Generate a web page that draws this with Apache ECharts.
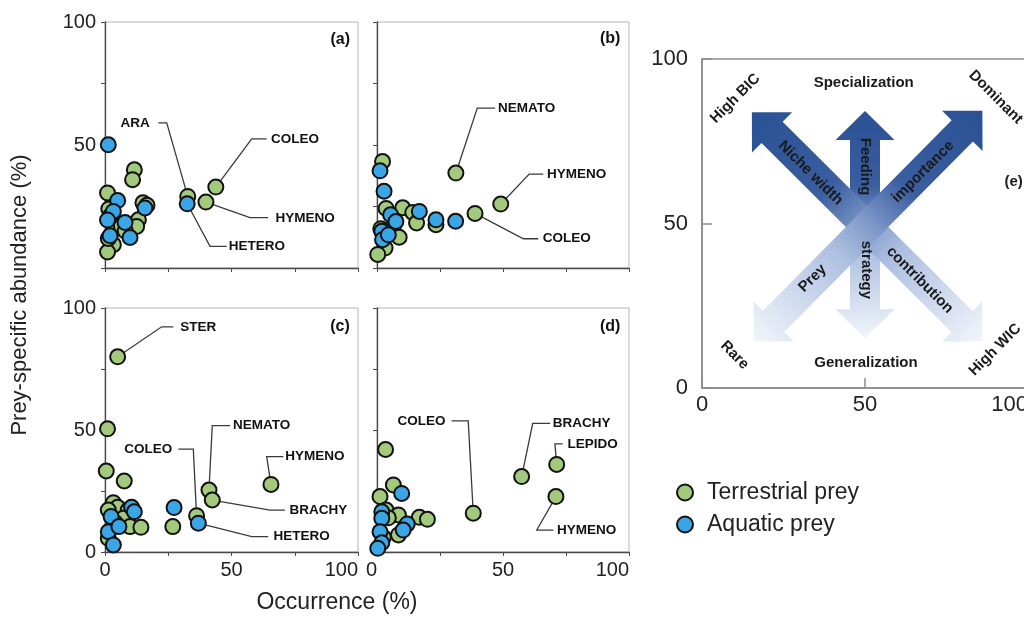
<!DOCTYPE html>
<html><head><meta charset="utf-8">
<script src="https://cdn.jsdelivr.net/npm/echarts@6/dist/echarts.min.js"></script>
<style>html,body{margin:0;padding:0;background:#fff}#c{width:1024px;height:626px}</style>
</head><body><div id="c"></div>
<script>
const FONT = '"Liberation Sans", Arial, Helvetica, sans-serif';
const GREEN = '#A2C97C', BLUE = '#3BA6E6';

// ---------- data: [occurrence %, prey-specific abundance %] ----------
const terrestrialA = [[1,30.5],[11.6,39.9],[10.9,35.9],[1.5,24],[2,21],[15,26.5],[16.6,25.5],[13.2,19.6],[12.5,16.9],[4.5,16],[6.5,17],[8,15],[3.3,9.5],[1,6.5],[1.3,12],[32.7,29.1],[39.9,26.8],[43.8,32.9]];
const aquaticA = [[1.3,50.1],[5,27.4],[3.3,23],[1,19.5],[7.9,18.5],[2,13.1],[9.9,12.4],[15.8,24.4],[32.5,26.1]];

const terrestrialB = [[2.2,43.3],[31.3,38.6],[49.1,26],[38.9,22.2],[3.6,24.2],[10.2,24.5],[14.2,22.6],[15.7,18.3],[23.4,17.6],[6.5,16.9],[8.8,12.5],[3.2,8.1],[0.3,5.5],[1.5,16]];
const aquaticB = [[1.2,39.5],[2.8,31.2],[5.4,21.6],[7.5,18.9],[16.8,23],[23.4,19.6],[31.2,19],[1.9,14.9],[2.2,11.5],[4.5,13.5]];

const terrestrialC = [[5,80],[1,50.5],[0.5,33.2],[7.6,29.1],[41.1,25.4],[42.4,21.3],[65.6,27.7],[36.2,14.9],[26.8,10.4],[3.3,20.2],[5,18.3],[1.3,17.2],[9.2,17.2],[7.2,13.8],[9.9,10.4],[14.2,10.1],[1.3,5.6],[4,12]];
const aquaticC = [[36.9,11.8],[27.3,18.2],[10.5,18.3],[11.6,16.5],[2.4,14.5],[1.3,8.3],[5.5,10.4],[3.3,2.9]];

const terrestrialD = [[3.4,42],[57.4,30.9],[71.3,35.9],[71,22.7],[38.2,15.9],[6.5,27.5],[1.2,22.7],[3.6,17.2],[8.5,15.2],[16.8,14.2],[20,13.4],[8.5,7],[2.5,6],[4.5,14]];
const aquaticD = [[9.8,24],[1.9,16.5],[1.9,13.8],[12,11.5],[10.4,9],[1.2,8.3],[1.9,3.8],[0.3,1.5]];

const seriesNames = ['Terrestrial prey', 'Aquatic prey'];
const panelTags = ['(a)', '(b)', '(c)', '(d)', '(e)'];
const axisTicks = [0, 50, 100];

// ---------- annotations (text anchors and leader lines, in data units) ----------
const labelsA = [
  {name:'ARA', at:[11.9,59], leader:[[21.1,59],[24.4,59],[32.7,29.1]]},
  {name:'COLEO', at:[75.1,52.5], leader:[[63.9,52.5],[58,52.5],[43.8,32.9]]},
  {name:'HYMENO', at:[79.1,20.3], leader:[[64.5,20.5],[57.3,20.5],[39.9,26.8]]},
  {name:'HETERO', at:[60,8.8], leader:[[48.1,8.8],[41.5,8.8],[32.5,26.1]]},
  {name:panelTags[0], at:[93,93], tag:true}
];
const labelsB = [
  {name:'NEMATO', at:[59.4,65], leader:[[46.8,65],[39.8,65],[31.3,38.6]]},
  {name:'HYMENO', at:[79.2,38.2], leader:[[66,38.2],[60.4,38.2],[49.1,26]]},
  {name:'COLEO', at:[75.3,11.9], leader:[[64,11.9],[58.1,11.9],[38.9,22.2]]},
  {name:panelTags[1], at:[92.5,93.4], tag:true}
];
const labelsC = [
  {name:'STER', at:[36.9,92.3], leader:[[27,92.3],[22.4,92.3],[5,80]]},
  {name:'NEMATO', at:[61.9,51.8], leader:[[49.4,51.8],[42.4,51.8],[41.1,25.4]]},
  {name:'HYMENO', at:[83,39.1], leader:[[70.5,39.1],[63.9,39.1],[65.6,27.7]]},
  {name:'COLEO', at:[17.1,42.2], leader:[[29,42.2],[34.9,42.2],[36.2,14.9]]},
  {name:'BRACHY', at:[84.3,17.2], leader:[[71.1,17.2],[65.2,17.2],[42.4,21.3]]},
  {name:'HETERO', at:[77.7,6.3], leader:[[64.5,6.3],[58,6.3],[36.9,11.8]]},
  {name:panelTags[2], at:[92.9,92.3], tag:true}
];
const labelsD = [
  {name:'COLEO', at:[17.7,53.7], leader:[[29.6,53.7],[36.2,53.7],[38.2,15.9]]},
  {name:'BRACHY', at:[81.2,52.7], leader:[[68.7,52.7],[61.8,52.7],[57.4,30.9]]},
  {name:'LEPIDO', at:[85.6,44.3], leader:[[73.7,44.3],[70.6,44.3],[71.3,35.9]]},
  {name:'HYMENO', at:[83.2,9], leader:[[70,9],[63.4,9],[71,22.7]]},
  {name:panelTags[3], at:[92.5,92.3], tag:true}
];

// ---------- panel (e) conceptual diagram ----------
const arrowEnds = [[50,84.2,50,15.1],[15.3,83.8,86,14.1],[86,84.3,15.8,14.1]]; // dark tip -> light tip
const eTexts = ['Specialization','Generalization','High BIC','Dominant','Rare','High WIC','Niche width','Feeding','importance','Prey','strategy','contribution',panelTags[4]];
const eAnchors = [[49.6,92.6],[50.3,7.5],[10.2,88],[90.1,88.4],[10,10],[89.9,11.6],[33.3,65.3],[50,67.3],[67.8,65.7],[33.9,33.3],[50.3,35.9],[66.8,32.8],[95.6,62.7]];
const eAngles = [0,0,45,-45,-45,45,-45,-90,45,45,-90,-45,0];

// ---------- layout ----------
const grids = [
  {left:105, top:22, width:253, height:246},
  {left:377, top:22, width:252, height:246},
  {left:105, top:308, width:253, height:244},
  {left:377, top:308, width:252, height:244},
  {left:702, top:59, width:326, height:329}
].map(g => Object.assign({show:true, borderColor:'#b5b5b5', borderWidth:1, backgroundColor:'transparent',
  containLabel:false, outerBoundsMode:'none'}, g));
grids[4].borderColor = '#8c8c8c'; grids[4].borderWidth = 1.5;

function xAx(gi, showLabel){
  return {type:'value', gridIndex:gi, min:0, max:100, interval:25,
    axisLine:{show:true, onZero:false, lineStyle:{color:'#4a4a4a', width:1.3}},
    axisTick:{show:true, length:4, lineStyle:{color:'#4a4a4a'}},
    axisLabel:{show:showLabel, fontFamily:FONT, fontSize:20, color:'#222', margin:8,
      alignMaxLabel:'right', alignMinLabel: gi===3 ? 'right' : 'center',
      formatter:v => axisTicks.includes(v) ? String(v) : ''},
    splitLine:{show:false}};
}
function yAx(gi, showLabel, showZero){
  return {type:'value', gridIndex:gi, min:0, max:100, interval:25,
    axisLine:{show:true, onZero:false, lineStyle:{color:'#4a4a4a', width:1.3}},
    axisTick:{show:true, length:4, lineStyle:{color:'#4a4a4a'}},
    axisLabel:{show:showLabel, fontFamily:FONT, fontSize:20, color:'#222', margin:9,
      formatter:v => (axisTicks.includes(v) && (v!==0 || showZero)) ? String(v) : ''},
    splitLine:{show:false}};
}
const xAxes = [xAx(0,false), xAx(1,false), xAx(2,true), xAx(3,true),
  {type:'value', gridIndex:4, min:0, max:100, interval:50,
    axisLine:{show:true, onZero:false, lineStyle:{color:'#8c8c8c', width:1.5}},
    axisTick:{show:true, inside:true, length:10, lineStyle:{color:'#8c8c8c', width:1.5}},
    axisLabel:{fontFamily:FONT, fontSize:22, color:'#222', margin:6, alignMaxLabel:'right'},
    splitLine:{show:false}}];
const yAxes = [yAx(0,true,false), yAx(1,false,false), yAx(2,true,true), yAx(3,false,false),
  {type:'value', gridIndex:4, min:0, max:100, interval:50,
    axisLine:{show:true, onZero:false, lineStyle:{color:'#8c8c8c', width:1.5}},
    axisTick:{show:true, inside:true, length:10, lineStyle:{color:'#8c8c8c', width:1.5}},
    axisLabel:{fontFamily:FONT, fontSize:22, color:'#222', margin:14},
    splitLine:{show:false}}];

function scatter(name, data, gi, color){
  return {type:'scatter', name, data, xAxisIndex:gi, yAxisIndex:gi, symbol:'circle', symbolSize:15, z:3,
    itemStyle:{color, borderColor:'#111', borderWidth:2, opacity:1}, emphasis:{disabled:true}, animation:false};
}
function annotations(gi, list){
  return {type:'custom', xAxisIndex:gi, yAxisIndex:gi, z:1, silent:true, animation:false,
    data:list.map(l => l.at),
    renderItem(params, api){
      const l = list[params.dataIndex];
      const p = api.coord(l.at);
      const children = [];
      if (l.leader) children.push({type:'polyline', shape:{points:l.leader.map(q => api.coord(q))},
        style:{stroke:'#3a3a3a', lineWidth:1.3, fill:null}});
      children.push({type:'text', x:p[0], y:p[1], style:{text:l.name, fill:'#111', fontFamily:FONT,
        fontWeight:'bold', fontSize:l.tag ? 16 : 13.5, align:'center', verticalAlign:'middle'}});
      return {type:'group', children};
    }};
}

const arrowSeries = {type:'custom', xAxisIndex:4, yAxisIndex:4, z:1, silent:true, animation:false,
  data:arrowEnds, encode:{x:[0,2], y:[1,3]},
  renderItem(params, api){
    const a = api.coord([api.value(0), api.value(1)]);
    const b = api.coord([api.value(2), api.value(3)]);
    const dx = a[0]-b[0], dy = a[1]-b[1], L = Math.hypot(dx, dy);
    const ux = dx/L, uy = dy/L, nx = -uy, ny = ux;
    const diag = params.dataIndex > 0;
    const h = diag ? 28.5 : 29, w = diag ? 28.5 : 29.5, s = 15;
    const P = (o, k, m) => [o[0] + ux*k + nx*m, o[1] + uy*k + ny*m];
    const pts = [a, P(a,-h,w), P(a,-h,s), P(b,h,s), P(b,h,w), b, P(b,h,-w), P(b,h,-s), P(a,-h,-s), P(a,-h,-w)];
    return {type:'polygon', shape:{points:pts}, style:{fill:{type:'linear', global:true,
      x:a[0], y:a[1], x2:b[0], y2:b[1], colorStops:[
        {offset:0, color:'#2A5194'}, {offset:0.33, color:'#3A5EA0'}, {offset:0.5, color:'#829BCB'},
        {offset:0.62, color:'#ADBFE0'}, {offset:1, color:'#F2F5FB'}]}}};
  }};
const eTextSeries = {type:'custom', xAxisIndex:4, yAxisIndex:4, z:2, silent:true, animation:false,
  data:eAnchors,
  renderItem(params, api){
    const i = params.dataIndex;
    const p = api.coord(eAnchors[i]);
    return {type:'text', x:p[0], y:p[1], rotation:eAngles[i]*Math.PI/180,
      style:{text:eTexts[i], fill:'#1a1a1a', fontFamily:FONT, fontWeight:'bold', fontSize:15,
        align:'center', verticalAlign:'middle'}};
  }};

const option = {
  animation:false,
  backgroundColor:'#fff',
  grid:grids, xAxis:xAxes, yAxis:yAxes,
  legend:{orient:'vertical', left:671, top:476, itemWidth:16, itemHeight:16, itemGap:9, icon:'circle',
    selectedMode:false, data:seriesNames,
    textStyle:{fontFamily:FONT, fontSize:23, color:'#222', padding:[0,0,0,9]}},
  graphic:[
    {type:'text', x:20, y:295, rotation:Math.PI/2, style:{text:'Prey-specific abundance (%)', fontFamily:FONT,
      fontSize:22, fill:'#222', align:'center', verticalAlign:'middle'}},
    {type:'text', x:337, y:603, style:{text:'Occurrence (%)', fontFamily:FONT, fontSize:23, fill:'#222',
      align:'center', verticalAlign:'middle'}}
  ],
  series:[
    annotations(0, labelsA), annotations(1, labelsB), annotations(2, labelsC), annotations(3, labelsD),
    scatter(seriesNames[0], terrestrialA, 0, GREEN), scatter(seriesNames[1], aquaticA, 0, BLUE),
    scatter(seriesNames[0], terrestrialB, 1, GREEN), scatter(seriesNames[1], aquaticB, 1, BLUE),
    scatter(seriesNames[0], terrestrialC, 2, GREEN), scatter(seriesNames[1], aquaticC, 2, BLUE),
    scatter(seriesNames[0], terrestrialD, 3, GREEN), scatter(seriesNames[1], aquaticD, 3, BLUE),
    arrowSeries, eTextSeries
  ]
};
const chart = echarts.init(document.getElementById('c'), null, {renderer:'canvas'});
chart.setOption(option);
</script>
</body></html>
